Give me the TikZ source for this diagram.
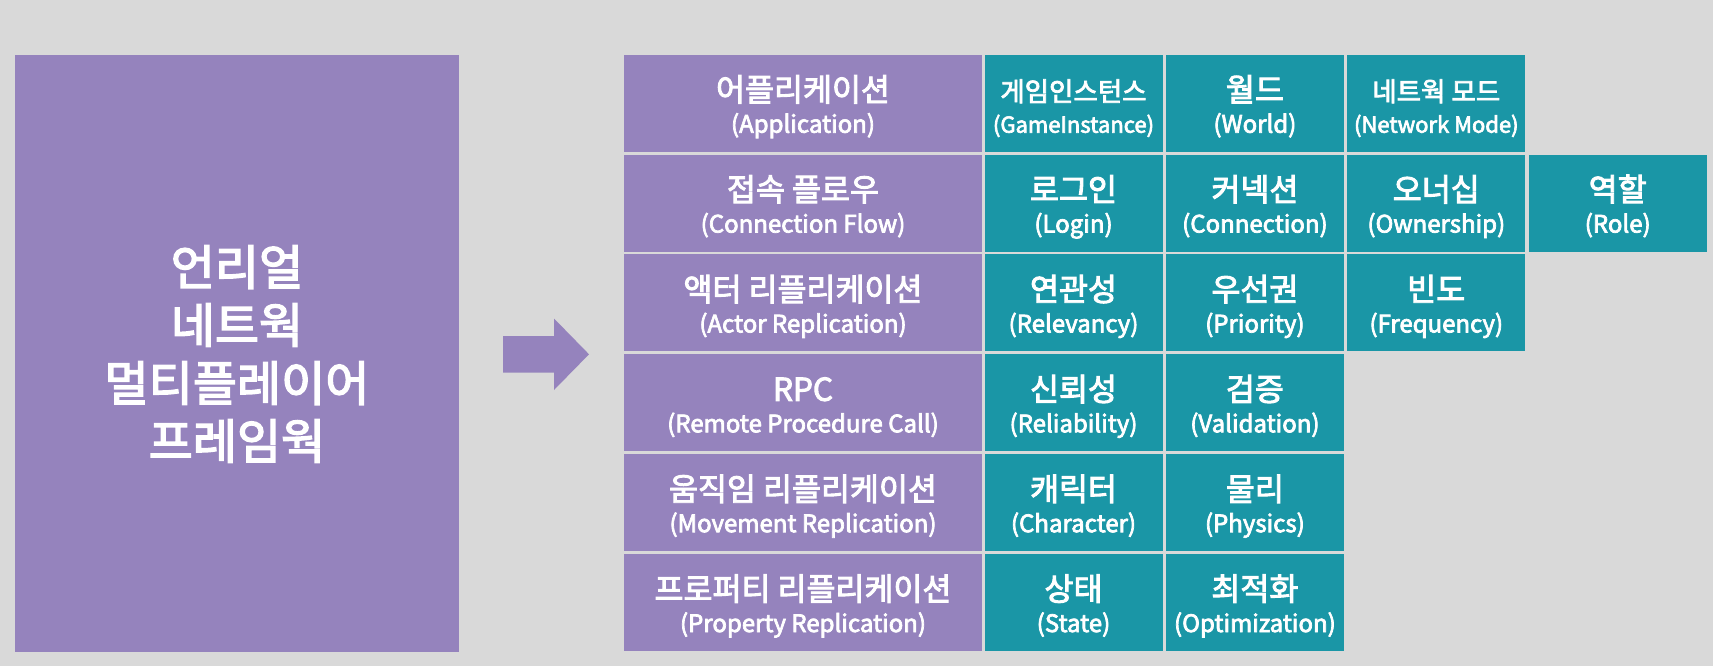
\documentclass[tikz,border=0pt]{standalone}
\usepackage{fontspec}
\setmainfont{Noto Sans CJK KR}[FakeBold=3]
\usetikzlibrary{calc}
\definecolor{bgc}{HTML}{D9D9D9}
\definecolor{purp}{HTML}{9583BD}
\definecolor{tealc}{HTML}{1A96A6}
\newcommand\krsz{\fontsize{31.5}{36}\selectfont}
\newcommand\krszs{\fontsize{26.5}{32}\selectfont}
\newcommand\ensz{\fontsize{24}{29}\selectfont}
\newcommand\enszs{\fontsize{22}{27}\selectfont}
\newcommand\ttsz{\fontsize{48}{58}\selectfont}
\tikzset{
  cellbox/.style={anchor=north west, minimum height=97, inner sep=0, outer sep=0, draw=none},
  krtxt/.style={anchor=base, inner sep=0, text=white, font=\krsz},
  entxt/.style={anchor=base, inner sep=0, text=white, font=\ensz},
  titletxt/.style={anchor=base, inner sep=0, text=white, font=\ttsz},
}
% #1 name, #2 x, #3 y, #4 width, #5 fill, #6 korean, #7 english
\newcommand\mycell[7]{%
  \node[cellbox, fill=#5, minimum width=#4] (#1) at (#2,#3) {};
  \node[krtxt] (#1k) at ($(#1.north)+(0,46.5)$) {#6};
  \node[entxt] (#1e) at ($(#1.north)+(0,78)$) {#7};
}
\begin{document}
\begin{tikzpicture}[x=1pt,y=-1pt]
\fill[bgc] (0,0) rectangle (1713,666);
\useasboundingbox (0,0) rectangle (1713,666);
% big box
\node[cellbox, fill=purp, minimum width=444, minimum height=597.5] (big) at (15,54.7) {};
\node[titletxt] (t1) at (237,285) {언리얼};
\node[titletxt] (t2) at (237,343) {네트웍};
\node[titletxt] (t3) at (237,401) {멀티플레이어};
\node[titletxt] (t4) at (237,459) {프레임웍};
% arrow
\fill[purp] (503,336) -- (554,336) -- (554,318.5) -- (589,354.3) -- (554,390) -- (554,372.5) -- (503,372.5) -- cycle;
% row 1
\mycell{a0}{624}{54.7}{358}{purp}{어플리케이션}{(Application)}
\mycell{a1}{984.5}{54.7}{178}{tealc}{{\krszs 게임인스턴스}}{{\enszs (GameInstance)}}
\mycell{a2}{1165.9}{54.7}{178}{tealc}{월드}{(World)}
\mycell{a3}{1347.3}{54.7}{178}{tealc}{{\krszs 네트웍 모드}}{{\enszs (Network Mode)}}
% row 2
\mycell{b0}{624}{154.56}{358}{purp}{접속 플로우}{(Connection Flow)}
\mycell{b1}{984.5}{154.56}{178}{tealc}{로그인}{(Login)}
\mycell{b2}{1165.9}{154.56}{178}{tealc}{커넥션}{(Connection)}
\mycell{b3}{1347.3}{154.56}{178}{tealc}{오너십}{(Ownership)}
\mycell{b4}{1528.7}{154.56}{178}{tealc}{역할}{(Role)}
% row 3
\mycell{c0}{624}{254.42}{358}{purp}{액터 리플리케이션}{(Actor Replication)}
\mycell{c1}{984.5}{254.42}{178}{tealc}{연관성}{(Relevancy)}
\mycell{c2}{1165.9}{254.42}{178}{tealc}{우선권}{(Priority)}
\mycell{c3}{1347.3}{254.42}{178}{tealc}{빈도}{(Frequency)}
% row 4
\mycell{d0}{624}{354.28}{358}{purp}{RPC}{(Remote Procedure Call)}
\mycell{d1}{984.5}{354.28}{178}{tealc}{신뢰성}{(Reliability)}
\mycell{d2}{1165.9}{354.28}{178}{tealc}{검증}{(Validation)}
% row 5
\mycell{e0}{624}{454.14}{358}{purp}{움직임 리플리케이션}{(Movement Replication)}
\mycell{e1}{984.5}{454.14}{178}{tealc}{캐릭터}{(Character)}
\mycell{e2}{1165.9}{454.14}{178}{tealc}{물리}{(Physics)}
% row 6
\mycell{f0}{624}{554}{358}{purp}{프로퍼티 리플리케이션}{(Property Replication)}
\mycell{f1}{984.5}{554}{178}{tealc}{상태}{(State)}
\mycell{f2}{1165.9}{554}{178}{tealc}{최적화}{(Optimization)}
\end{tikzpicture}
\end{document}
